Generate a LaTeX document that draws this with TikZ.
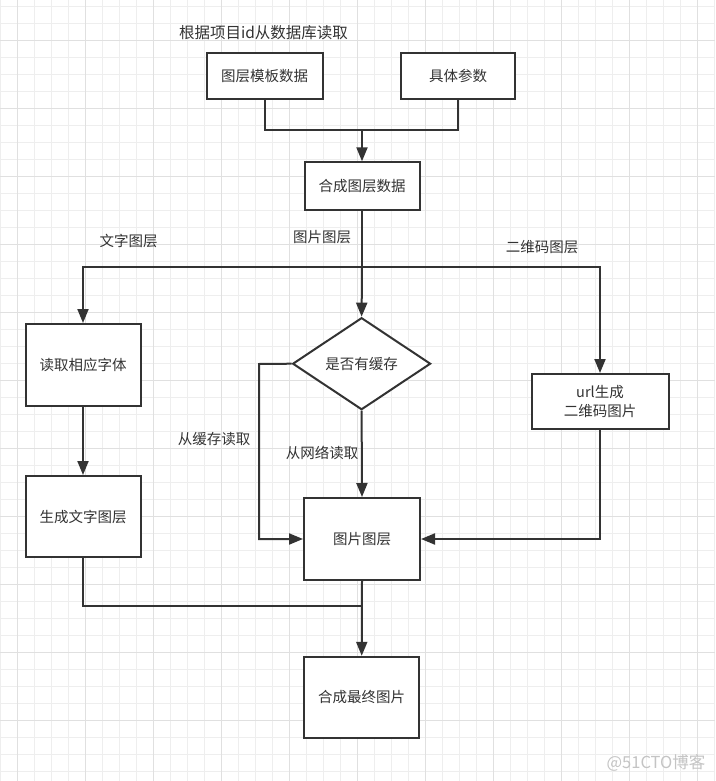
\documentclass[tikz,border=0pt]{standalone}
\usepackage{fontspec}
\newfontfamily\cjk{Noto Sans CJK SC}
\usetikzlibrary{arrows.meta,shapes.geometric}
\definecolor{ink}{HTML}{333333}
\definecolor{gridminor}{HTML}{EEEEEE}
\definecolor{gridmajor}{HTML}{E0E0E0}
\definecolor{wm}{HTML}{C4C4C4}
\tikzset{
  box/.style={draw=ink, line width=2pt, fill=white, rectangle, inner sep=2pt,
    text=ink, font=\cjk\fontsize{14.5}{19}\selectfont, align=center},
  decide/.style={draw=ink, line width=2pt, fill=white, diamond, inner sep=0pt,
    minimum width=138pt, minimum height=92pt, text=ink, font=\cjk\fontsize{14.5}{19}\selectfont},
  lab/.style={text=ink, inner sep=0pt, font=\cjk\fontsize{14.5}{19}\selectfont},
  conn/.style={draw=ink, line width=2pt},
  arr/.style={conn, -{Triangle[length=14pt,width=11pt]}}
}
\begin{document}
\begin{tikzpicture}[x=1pt,y=-1pt]
\useasboundingbox (0,0) rectangle (715,781);
\fill[white] (0,0) rectangle (715,781);
% grid
\foreach \i in {0,...,42} {
  \draw[gridminor, line width=0.8pt] (\i*17,0) -- (\i*17,781);
}
\foreach \j in {0,...,45} {
  \draw[gridminor, line width=0.8pt] (0,6+\j*17) -- (715,6+\j*17);
}
\foreach \i in {0,...,10} {
  \draw[gridmajor, line width=0.8pt] (17+\i*68,0) -- (17+\i*68,781);
}
\foreach \j in {0,...,11} {
  \draw[gridmajor, line width=0.8pt] (0,40+\j*68) -- (715,40+\j*68);
}

% nodes
\node[lab, font=\cjk\fontsize{15.5}{19}\selectfont] (toplab) at (263.5,33) {根据项目id从数据库读取};
\node[box, minimum width=116pt, minimum height=46pt] (tpl) at (264.7,76.2) {图层模板数据};
\node[box, minimum width=114pt, minimum height=46pt] (par) at (458,76.2) {具体参数};
\node[box, minimum width=115pt, minimum height=48pt] (merge) at (362,186.3) {合成图层数据};
\node[box, minimum width=115pt, minimum height=82pt] (font) at (83,365) {读取相应字体};
\node[box, minimum width=115pt, minimum height=81pt] (gen) at (83,516.5) {生成文字图层};
\node[decide] (dia) at (361.6,363.7) {是否有缓存};
\node[box, minimum width=137pt, minimum height=55pt] (qr) at (600,401.5) {url生成\\二维码图片};
\node[box, minimum width=116pt, minimum height=82pt] (img) at (362,539) {图片图层};
\node[box, minimum width=115pt, minimum height=81pt] (final) at (361.7,697.3) {合成最终图片};

% labels
\node[lab] (l1) at (128.6,241) {文字图层};
\node[lab] (l2) at (322,237) {图片图层};
\node[lab] (l3) at (542,247) {二维码图层};
\node[lab] (l4) at (214,439) {从缓存读取};
\node[lab] (l5) at (322,453) {从网络读取};
\node[text=wm, inner sep=0pt, font=\cjk\fontsize{16.5}{19}\selectfont] (wmark) at (656,763) {@51CTO博客};

% junctions
\coordinate (j1) at (362,130);
\coordinate (j2) at (362,267);
\coordinate (c1) at (259,364);
\coordinate (j3) at (362,605.7);

% connectors
\draw[conn] (tpl.south) |- (j1);
\draw[conn] (par.south) |- (j1);
\draw[arr] (j1) -- (merge.north);
\draw[conn] (merge.south) -- (j2);
\draw[arr] (j2) -| (font.north);
\draw[arr] (j2) -- (dia.north);
\draw[arr] (j2) -| (qr.north);
\draw[arr] (font.south) -- (gen.north);
\draw[arr] (dia.west) -- (c1) |- (img.west);
\draw[arr] (dia.south) -- (img.north);
\draw[arr] (qr.south) |- (img.east);
\draw[conn] (gen.south) |- (j3);
\draw[arr] (img.south) -- (final.north);
\end{tikzpicture}
\end{document}
